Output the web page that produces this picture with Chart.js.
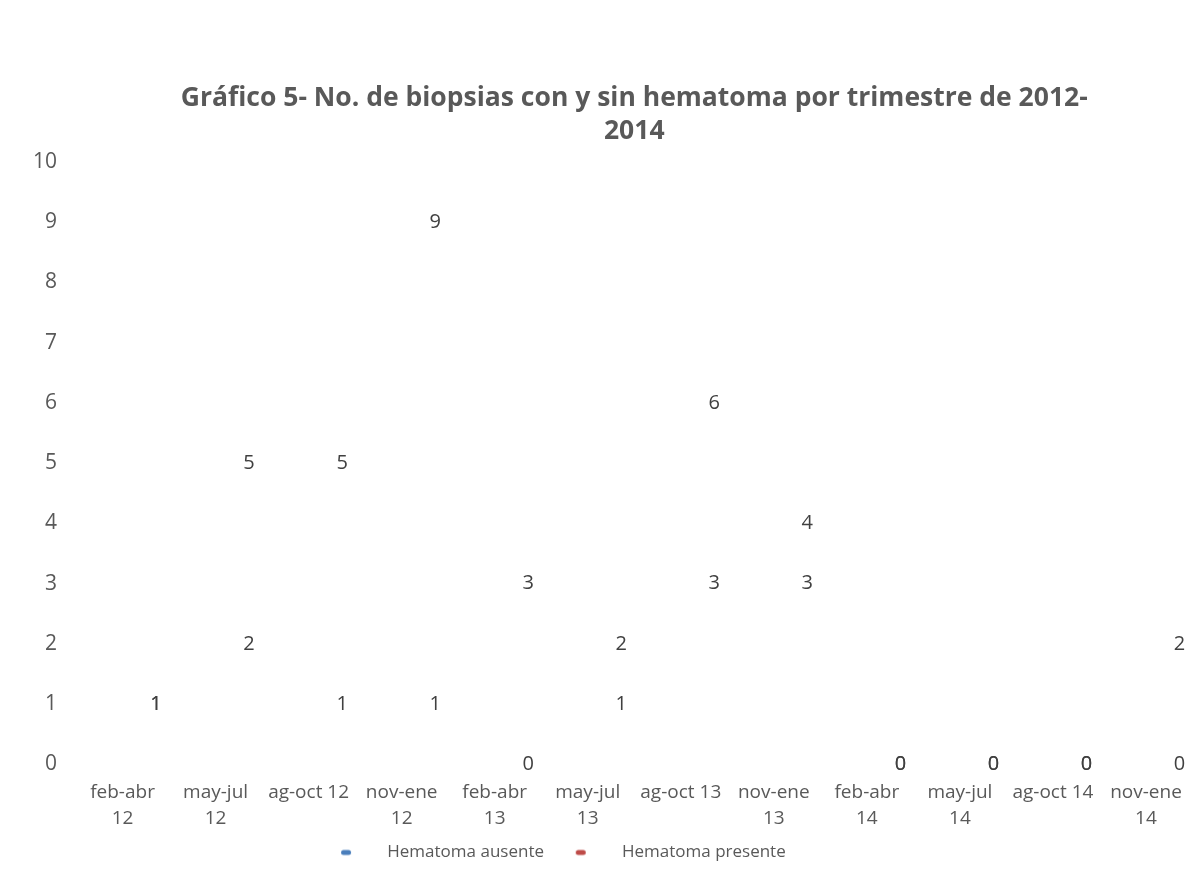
<!DOCTYPE html>
<html>
<head>
<meta charset="utf-8">
<script src="https://cdn.jsdelivr.net/npm/chart.js@4.4.1/dist/chart.umd.min.js"></script>
<style>
html,body{margin:0;padding:0;background:#ffffff;}
#wrap{width:1197px;height:888px;position:relative;}
</style>
</head>
<body>
<div id="wrap"><canvas id="chart" width="1197" height="888"></canvas></div>
<script>
// ---- data ----
const categories = [
  ['feb-abr', '12'], ['may-jul', '12'], 'ag-oct 12', ['nov-ene', '12'],
  ['feb-abr', '13'], ['may-jul', '13'], 'ag-oct 13', ['nov-ene', '13'],
  ['feb-abr', '14'], ['may-jul', '14'], 'ag-oct 14', ['nov-ene', '14']
];
const seriesNames = ['Hematoma ausente', 'Hematoma presente'];
const hematomaAusente  = [1, 5, 5, 9, 3, 2, 6, 4, 0, 0, 0, 2];
const hematomaPresente = [1, 2, 1, 1, 0, 1, 3, 3, 0, 0, 0, 0];
const yTickValues = [0, 1, 2, 3, 4, 5, 6, 7, 8, 9, 10];
const titleLines = ['Gráfico 5- No. de biopsias con y sin hematoma por trimestre de 2012-', '2014'];

// ---- styles ----
const FONT = '"Open Sans", "Liberation Sans", sans-serif';
const seriesColors = ['#4a7ebb', '#be4b48'];
const MARKER_BOX = 59.5;

function makeMarker(color) {
  const c = document.createElement('canvas');
  c.width = 60; c.height = 10;
  const g = c.getContext('2d');
  g.fillStyle = color;
  g.beginPath();
  g.roundRect(22, 2.5, 10, 5, 2.5);
  g.fill();
  return c;
}
const markers = seriesColors.map(makeMarker);

const valueLabels = {
  id: 'valueLabels',
  afterDatasetsDraw(chart) {
    const { ctx, scales: { x, y } } = chart;
    const step = x.width / chart.data.labels.length;
    ctx.save();
    ctx.font = '20px ' + FONT;
    ctx.fillStyle = '#404040';
    ctx.textAlign = 'center';
    ctx.textBaseline = 'middle';
    chart.data.datasets.forEach(ds => {
      ds.data.forEach((v, i) => {
        ctx.fillText(String(v), x.getPixelForValue(i) + step * 0.36, y.getPixelForValue(v));
      });
    });
    ctx.restore();
  }
};

const legendShift = {
  id: 'legendShift',
  afterLayout(chart) {
    const lg = chart.legend;
    if (lg) { lg.left -= 46; lg.right -= 46; }
  }
};

new Chart(document.getElementById('chart'), {
  type: 'bar',
  data: {
    labels: categories,
    datasets: [
      { label: seriesNames[0], data: hematomaAusente, backgroundColor: 'rgba(0,0,0,0)', borderWidth: 0 },
      { label: seriesNames[1], data: hematomaPresente, backgroundColor: 'rgba(0,0,0,0)', borderWidth: 0 }
    ]
  },
  options: {
    responsive: false,
    devicePixelRatio: 1,
    animation: false,
    events: [],
    layout: { padding: { top: 0, left: 0, right: 0, bottom: 17 } },
    scales: {
      x: {
        grid: { display: false, drawTicks: false },
        border: { display: false },
        ticks: { color: '#595959', font: { family: FONT, size: 19, lineHeight: 1.37 }, padding: 15, maxRotation: 0, autoSkip: false },
        afterFit(s) { s.height = 69.5; }
      },
      y: {
        min: 0, max: 10,
        grid: { display: false, drawTicks: false },
        border: { display: false },
        afterBuildTicks(s) { s.ticks = yTickValues.map(v => ({ value: v })); },
        ticks: { color: '#595959', font: { family: FONT, size: 21 }, padding: 19 },
        afterFit(s) { s.width = 76; }
      }
    },
    plugins: {
      title: {
        display: true,
        text: titleLines,
        fullSize: false,
        color: '#595959',
        font: { family: FONT, size: 26.5, weight: 'bold', lineHeight: 1.245 },
        padding: { top: 81.5, bottom: 14.5 }
      },
      legend: {
        position: 'bottom',
        labels: {
          usePointStyle: true,
          pointStyleWidth: MARKER_BOX,
          padding: 10,
          color: '#595959',
          font: { family: FONT, size: 17 },
          generateLabels(chart) {
            const items = Chart.defaults.plugins.legend.labels.generateLabels(chart);
            items.forEach((it, i) => { it.pointStyle = markers[i]; it.fontColor = '#595959'; });
            return items;
          }
        }
      },
      tooltip: { enabled: false }
    }
  },
  plugins: [valueLabels, legendShift]
});
</script>
</body>
</html>
